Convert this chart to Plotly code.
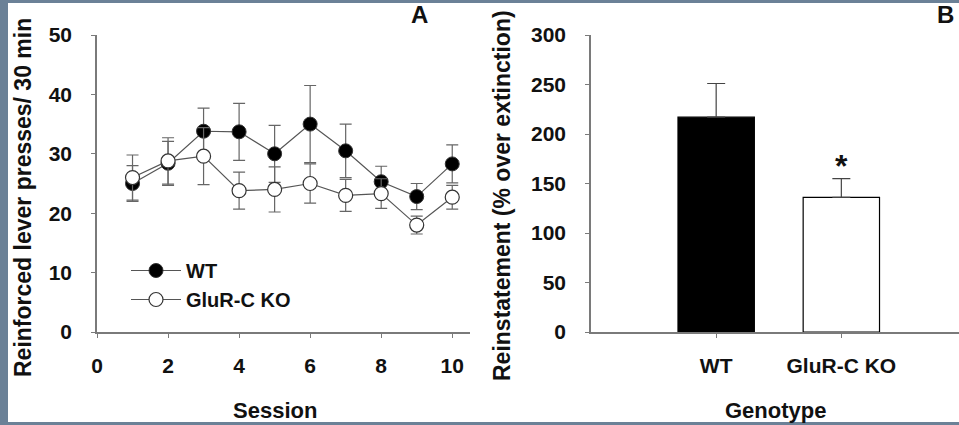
import plotly.graph_objects as go

# ---- data ----
sessions = [1, 2, 3, 4, 5, 6, 7, 8, 9, 10]
wt_mean = [25.0, 28.4, 33.8, 33.7, 30.0, 35.0, 30.5, 25.3, 22.8, 28.3]
wt_err = [3.0, 3.7, 3.9, 4.8, 4.8, 6.5, 4.5, 2.6, 2.2, 3.2]
ko_mean = [26.0, 28.8, 29.6, 23.8, 24.0, 25.0, 23.0, 23.3, 18.0, 22.7]
ko_err = [3.8, 3.9, 4.8, 3.1, 3.8, 3.3, 2.7, 2.5, 1.5, 2.0]

genotypes = ["WT", "GluR-C KO"]
geno_pos = [1, 2]
reinstatement = [217, 136]
reinstatement_err = [34, 19]

x_ticks_a = [0, 2, 4, 6, 8, 10]
y_ticks_a = [0, 10, 20, 30, 40, 50]
y_ticks_b = [0, 50, 100, 150, 200, 250, 300]

W, H = 959, 425
FONT = "Liberation Sans, Arial, sans-serif"
AXC = "#7a7a7a"

def px_x(p):
    return p / W

def px_y(p):
    return 1 - p / H

fig = go.Figure()

fig.add_trace(go.Scatter(
    x=sessions, y=wt_mean, name="WT", mode="lines+markers",
    line=dict(color="#555555", width=1.2),
    marker=dict(symbol="circle", size=14, color="black", line=dict(color="#333333", width=1)),
    error_y=dict(type="data", array=wt_err, visible=True, color="#666666", thickness=1.2, width=6),
    xaxis="x", yaxis="y"))
fig.add_trace(go.Scatter(
    x=sessions, y=ko_mean, name="GluR-C KO", mode="lines+markers",
    line=dict(color="#555555", width=1.2),
    marker=dict(symbol="circle", size=14, color="white", line=dict(color="#333333", width=1.2)),
    error_y=dict(type="data", array=ko_err, visible=True, color="#666666", thickness=1.2, width=6),
    xaxis="x", yaxis="y"))

fig.add_trace(go.Bar(
    x=geno_pos, y=reinstatement, width=0.61,
    marker=dict(color=["black", "white"], line=dict(color="black", width=1.2)),
    error_y=dict(type="data", array=reinstatement_err, arrayminus=[0, 0], visible=True,
                 color="#444444", thickness=1.2, width=9),
    showlegend=False, xaxis="x2", yaxis="y2"))

ax_common = dict(showline=True, linecolor=AXC, linewidth=1.5, ticks="outside",
                 tickcolor=AXC, ticklen=4, tickwidth=1.2, showgrid=False, zeroline=False,
                 automargin=False,
                 tickfont=dict(family=FONT, size=21, color="#111111", weight="bold"))

fig.update_layout(
    width=W, height=H,
    margin=dict(l=0, r=0, t=0, b=0, autoexpand=False),
    paper_bgcolor="#6b8197",
    plot_bgcolor="rgba(0,0,0,0)",
    xaxis=dict(domain=[px_x(97), px_x(470)], range=[0, 10.5], tickvals=x_ticks_a,
               anchor="y", ticklabelstandoff=10, **ax_common),
    yaxis=dict(domain=[px_y(332), px_y(35)], range=[0, 50], tickvals=y_ticks_a,
               anchor="x", ticklabelstandoff=15, **ax_common),
    xaxis2=dict(domain=[px_x(591), 1.0], range=[0, 2.94], tickvals=geno_pos,
                ticktext=genotypes, anchor="y2", ticklabelstandoff=10, **ax_common),
    yaxis2=dict(domain=[px_y(332), px_y(35)], range=[0, 300], tickvals=y_ticks_b,
                anchor="x2", ticklabelstandoff=15, **ax_common),
    showlegend=True,
    legend=dict(x=px_x(126), y=px_y(251), xanchor="left", yanchor="top",
                bgcolor="rgba(0,0,0,0)",
                font=dict(family=FONT, size=20, color="#111111", weight="bold"),
                tracegroupgap=0, itemwidth=50),
    font=dict(family=FONT, color="#111111"),
)

fig.add_shape(type="rect", xref="paper", yref="paper",
              x0=px_x(8), x1=1.0, y0=px_y(422), y1=px_y(3),
              fillcolor="white", line=dict(width=0), layer="below")

def ann(text, x, y, size, angle=0, xref="paper", yref="paper"):
    fig.add_annotation(text="<b>%s</b>" % text, x=x, y=y, xref=xref, yref=yref,
                       showarrow=False, textangle=angle,
                       font=dict(family=FONT, size=size, color="#111111"),
                       xanchor="center", yanchor="middle")

ann("Session", px_x(275), px_y(410), 22)
ann("Genotype", px_x(775), px_y(410), 22)
ann("Reinforced lever presses/ 30 min", px_x(23), px_y(198), 23, -90)
ann("Reinstatement (% over extinction)", px_x(502), px_y(196), 23, -90)
ann("A", px_x(419), px_y(15), 24)
ann("B", px_x(945), px_y(15), 24)
ann("*", 2, 168, 32, xref="x2", yref="y2")

fig.write_html("out.html", config={"displayModeBar": False},
               post_script="document.body.style.margin='0';document.body.style.overflow='hidden';")
